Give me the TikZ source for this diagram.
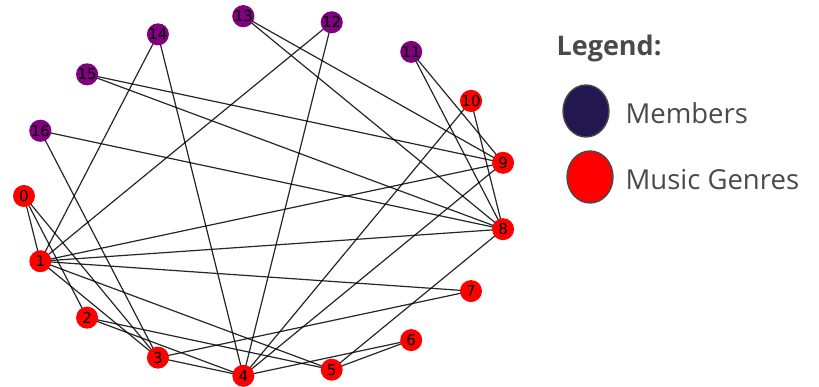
\documentclass[tikz,border=0pt]{standalone}
\usepackage{fontspec}
\setmainfont{Open Sans}
\newfontfamily\labelfont{DejaVu Sans}
\usetikzlibrary{backgrounds,shapes.geometric}
\definecolor{genre}{HTML}{FF0000}
\definecolor{member}{HTML}{800080}
\definecolor{memberkey}{HTML}{22174F}
\definecolor{legendtext}{HTML}{4A4A4A}
\tikzset{
  vertex/.style={circle, inner sep=0pt, minimum size=22pt, font=\labelfont\fontsize{15}{15}\selectfont, text=black},
  genrevertex/.style={vertex, fill=genre},
  membervertex/.style={vertex, fill=member},
  link/.style={draw=black, line width=1.2pt, opacity=0.85},
  keyblob/.style={ellipse, draw=legendtext, line width=1.4pt, minimum width=46pt, minimum height=52pt, inner sep=0pt},
  keytext/.style={anchor=west, text=legendtext, font=\fontsize{27.5}{27.5}\selectfont},
}
\begin{document}
\begin{tikzpicture}[x=1pt, y=1pt]
  \useasboundingbox (0,0) rectangle (819,387);
  % circular layout on an ellipse, node 0 at the left
  \foreach \k in {0,...,10}
    \node[genrevertex] (n\k) at ({265.6+241.6*cos(180+\k*360/17)}, {191+180.6*sin(180+\k*360/17)}) {\k};
  \foreach \k in {11,...,16}
    \node[membervertex] (n\k) at ({265.6+241.6*cos(180+\k*360/17)}, {191+180.6*sin(180+\k*360/17)}) {\k};
  \begin{scope}[on background layer]
    \foreach \a/\b in {0/1, 0/2, 0/3,
                       1/14, 1/12, 1/9, 1/8, 1/7, 1/5, 1/3,
                       16/3, 16/8, 15/9, 15/8, 14/4, 13/9, 13/8,
                       12/4, 11/9, 11/8, 10/4, 10/8, 9/4, 8/5,
                       2/4, 2/5, 3/7, 3/4, 4/6, 5/6}
      \draw[link] (n\a.center) -- (n\b.center);
  \end{scope}
  % legend
  \node[anchor=west, text=legendtext, font=\bfseries\fontsize{27}{27}\selectfont] (legtitle) at (553,339) {Legend:};
  \node[keyblob, fill=memberkey] (keymember) at (586,276) {};
  \node[keytext] (txtmember) at (622,274) {Members};
  \node[keyblob, fill=genre] (keygenre) at (590,210) {};
  \node[keytext] (txtgenre) at (622,207) {Music Genres};
\end{tikzpicture}
\end{document}
